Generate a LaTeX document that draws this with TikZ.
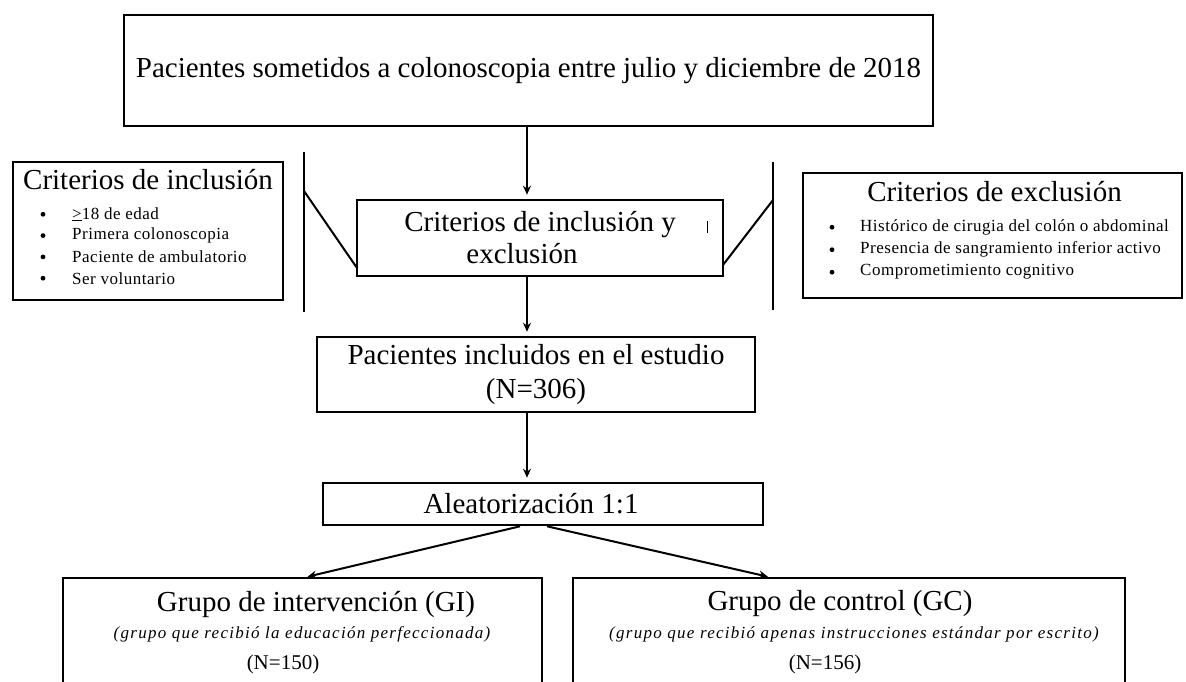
\documentclass[tikz,border=0pt]{standalone}
\usepackage{fontspec}
\setmainfont{Liberation Serif}
\newfontfamily\espaciada[LetterSpace=3]{Liberation Serif}
\newfontfamily\nota[LetterSpace=7.5]{Liberation Serif}
\usetikzlibrary{positioning,arrows.meta}

\tikzset{
  caja/.style={draw, line width=2.6pt, inner sep=0pt},
  flecha/.style={-{Stealth[length=9pt,width=8pt]}, line width=2pt, shorten >=4pt},
  linea/.style={line width=2pt},
  grande/.style={font=\fontsize{29}{32}\selectfont},
  titulo/.style={inner sep=0pt, grande},
  item/.style={anchor=west, inner sep=0pt, font=\fontsize{17}{19}\espaciada},
}

\begin{document}
\begin{tikzpicture}[x=1pt, y=-1pt]
  \clip (0,0) rectangle (1186,682);

  % Cajas principales
  \node[caja, grande, minimum width=809pt, minimum height=111pt] (sometidos) at (528.5,70.5)
    {Pacientes sometidos a colonoscopia entre julio y diciembre de 2018};
  \node[caja, grande, minimum width=366pt, minimum height=76pt, align=center] (criterios) at (540,238)
    {Criterios de inclusión y\\exclusión\hspace*{36pt}};
  \node[caja, minimum width=438pt, minimum height=75pt, align=center, font=\fontsize{29}{34}\selectfont] (incluidos) at (536,374.5)
    {Pacientes incluidos en el estudio\\(N=306)};
  \node[caja, grande, minimum width=440pt, minimum height=42pt] (aleatorizacion) at (543,504)
    {Aleatorización 1:1\hspace*{24pt}};

  % Criterios de inclusion
  \node[caja, minimum width=270pt, minimum height=138pt] (inclusion) at (148,231) {};
  \node[titulo] (tinclusion) at (148,180) {Criterios de inclusión};
  \foreach \txt [count=\i] in {{\underline{>}18 de edad}, Primera colonoscopia, Paciente de ambulatorio, Ser voluntario} {
    \fill (43,193+21.3*\i) circle (2.4pt);
    \node[item] (inc\i) at (72,193+21.3*\i) {\txt};
  }

  % Criterios de exclusion
  \node[caja, minimum width=379pt, minimum height=125pt] (exclusion) at (992.5,235.5) {};
  \node[titulo] (texclusion) at (994.5,192) {Criterios de exclusión};
  \foreach \txt [count=\i] in {Histórico de cirugia del colón o abdominal, Presencia de sangramiento inferior activo, Comprometimiento cognitivo} {
    \fill (832,204.7+22.5*\i) circle (2.4pt);
    \node[item] (exc\i) at (860,204.7+22.5*\i) {\txt};
  }

  % Corchetes
  \draw[linea] (304,152) -- (304,312);
  \draw[linea] (304,191) -- (357,268);
  \draw[linea] (773,162) -- (773,310);
  \draw[linea] (723,265) -- (773,200);
  \draw[line width=1pt] (707,221) -- (707,233);

  % Grupos
  \node[caja, minimum width=479pt, minimum height=122pt] (intervencion) at (302.5,639) {};
  \node[titulo] (tintervencion) at (316,604) {Grupo de intervención (GI)};
  \node[inner sep=0pt, font=\fontsize{17}{19}\nota\itshape] (dintervencion) at (302,634) {(grupo que recibió la educación perfeccionada)};
  \node[inner sep=0pt, font=\fontsize{21}{24}\selectfont] (nintervencion) at (283,664) {(N=150)};

  \node[caja, minimum width=552pt, minimum height=122pt] (control) at (849,639) {};
  \node[titulo] (tcontrol) at (840,604) {Grupo de control (GC)};
  \node[inner sep=0pt, font=\fontsize{17}{19}\nota\itshape] (dcontrol) at (854,634) {(grupo que recibió apenas instrucciones estándar por escrito)};
  \node[inner sep=0pt, font=\fontsize{21}{24}\selectfont] (ncontrol) at (825,664) {(N=156)};

  % Flechas
  \coordinate (eje) at (527,0);
  \draw[flecha] (sometidos.south -| eje) -- (criterios.north -| eje);
  \draw[flecha] (criterios.south -| eje) -- (incluidos.north -| eje);
  \draw[flecha] (incluidos.south -| eje) -- (aleatorizacion.north -| eje);
  \draw[flecha, shorten >=0pt] ([xshift=-23pt]aleatorizacion.south) -- ([xshift=5pt]intervencion.north);
  \draw[flecha, shorten >=0pt] ([xshift=4pt]aleatorizacion.south) -- ([xshift=-81pt]control.north);
\end{tikzpicture}
\end{document}
